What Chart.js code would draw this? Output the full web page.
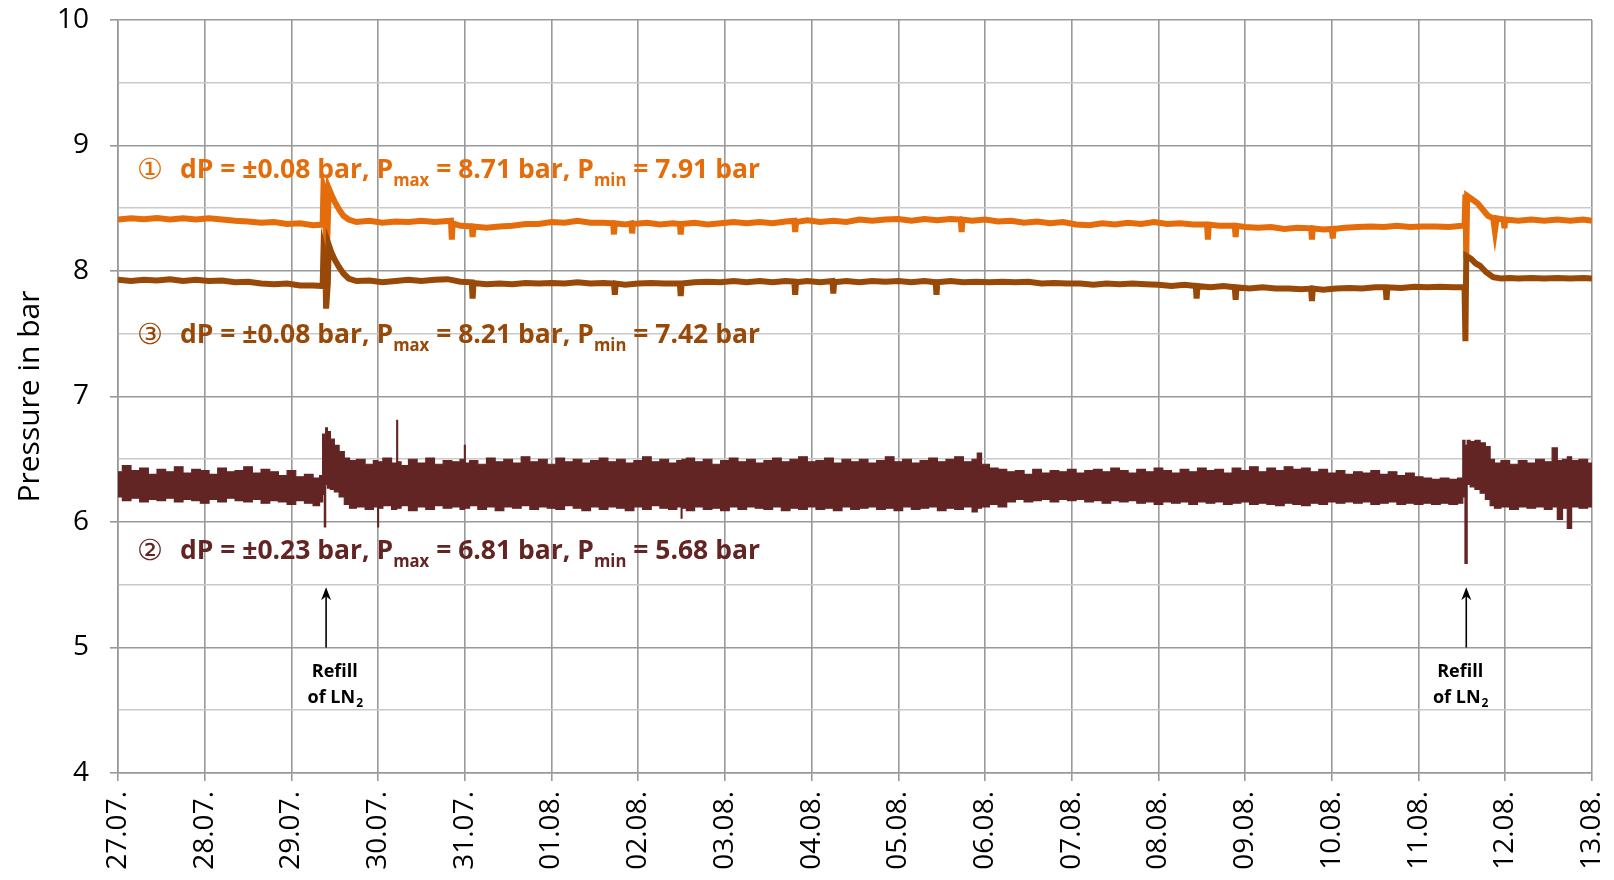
<!DOCTYPE html>
<html>
<head>
<meta charset="utf-8">
<script src="https://cdn.jsdelivr.net/npm/chart.js@4.4.1/dist/chart.umd.min.js"></script>
<style>
  html, body { margin: 0; padding: 0; background: #fff; }
  #wrap { width: 1614px; height: 880px; }
</style>
</head>
<body>
<div id="wrap"><canvas id="pressureChart"></canvas></div>
<script>
// x axis: days since 27.07.
const dateLabels = ['27.07.','28.07.','29.07.','30.07.','31.07.','01.08.','02.08.','03.08.','04.08.',
  '05.08.','06.08.','07.08.','08.08.','09.08.','10.08.','11.08.','12.08.','13.08.'];

// sensor 1 (orange)
const s1Days = [0.00,0.15,0.30,0.45,0.60,0.75,0.90,1.05,1.20,1.35,1.50,1.65,1.80,1.95,2.10,2.25,2.36,2.37,2.39,2.40,2.42,2.43,2.46,2.50,2.55,2.60,2.66,
  2.75,2.90,3.05,3.20,3.35,3.50,3.65,3.84,3.85,3.86,3.95,4.08,4.09,4.10,4.25,4.40,4.55,4.70,4.85,5.00,5.15,5.30,5.45,5.60,5.71,5.72,5.73,5.85,5.92,5.93,5.94,
  6.10,6.25,6.40,6.48,6.49,6.50,6.65,6.80,6.95,7.10,7.25,7.40,7.55,7.70,7.80,7.81,7.82,7.95,8.10,8.25,8.40,8.55,8.70,8.85,9.00,9.15,9.30,9.45,9.60,9.72,9.73,9.74,9.85,
  10.00,10.15,10.30,10.45,10.60,10.75,10.90,11.05,11.20,11.35,11.50,11.65,11.80,11.95,12.10,12.25,12.40,12.56,12.57,12.58,12.70,12.88,12.89,12.90,13.00,13.15,13.30,13.45,13.60,
  13.76,13.77,13.78,13.90,14.00,14.01,14.02,14.15,14.30,14.45,14.60,14.75,14.90,15.05,15.20,15.35,15.50,15.53,15.54,15.55,15.56,15.62,15.68,15.74,15.80,15.86,15.88,15.90,
  15.98,15.99,16.00,16.15,16.30,16.45,16.60,16.75,16.90,17.00];
const s1Bar = [8.41,8.42,8.412,8.422,8.41,8.42,8.41,8.42,8.41,8.40,8.395,8.385,8.39,8.375,8.38,8.365,8.37,8.67,8.62,7.95,8.40,8.66,8.61,8.55,8.49,8.44,8.41,
  8.39,8.40,8.385,8.395,8.39,8.40,8.39,8.40,8.25,8.38,8.36,8.355,8.27,8.355,8.345,8.355,8.36,8.375,8.375,8.39,8.385,8.40,8.385,8.385,8.38,8.29,8.38,8.37,8.38,8.30,8.375,
  8.385,8.37,8.38,8.375,8.29,8.375,8.385,8.37,8.38,8.39,8.38,8.39,8.38,8.395,8.40,8.31,8.39,8.405,8.39,8.40,8.39,8.41,8.40,8.41,8.415,8.40,8.415,8.405,8.415,8.41,8.31,8.41,8.40,
  8.41,8.395,8.40,8.385,8.395,8.38,8.39,8.37,8.365,8.38,8.37,8.385,8.375,8.39,8.375,8.38,8.37,8.37,8.25,8.37,8.36,8.36,8.27,8.36,8.35,8.345,8.35,8.335,8.345,
  8.34,8.25,8.34,8.33,8.335,8.26,8.335,8.345,8.35,8.355,8.35,8.36,8.35,8.355,8.355,8.35,8.36,8.36,8.61,8.10,8.60,8.57,8.54,8.49,8.44,8.42,8.32,8.42,
  8.41,8.34,8.41,8.40,8.41,8.40,8.41,8.40,8.41,8.40];

// sensor 3 (brown)
const s3Days = [0.00,0.15,0.30,0.45,0.60,0.75,0.90,1.05,1.20,1.35,1.50,1.65,1.80,1.95,2.10,2.25,2.36,2.37,2.39,2.40,2.42,2.43,2.46,2.50,2.55,2.60,2.66,
  2.75,2.90,3.05,3.20,3.35,3.50,3.65,3.80,3.95,4.08,4.09,4.10,4.25,4.40,4.55,4.70,4.85,5.00,5.15,5.30,5.45,5.60,5.72,5.73,5.74,5.85,6.00,6.15,6.30,6.48,6.49,6.50,
  6.65,6.80,6.95,7.10,7.25,7.40,7.55,7.70,7.80,7.81,7.82,7.95,8.10,8.24,8.25,8.26,8.40,8.55,8.70,8.85,9.00,9.15,9.30,9.43,9.44,9.45,9.60,9.75,9.90,
  10.05,10.20,10.35,10.50,10.65,10.80,10.95,11.10,11.25,11.40,11.55,11.70,11.85,12.00,12.15,12.30,12.43,12.44,12.45,12.60,12.75,12.88,12.89,12.90,13.05,13.20,13.35,
  13.50,13.65,13.76,13.77,13.78,13.90,14.05,14.20,14.35,14.50,14.62,14.63,14.64,14.80,14.95,15.10,15.25,15.40,15.53,15.54,15.55,15.60,15.66,15.71,15.78,15.86,
  15.95,16.05,16.15,16.30,16.45,16.60,16.75,16.90,17.00];
const s3Bar = [7.93,7.92,7.93,7.925,7.935,7.92,7.93,7.92,7.925,7.91,7.915,7.90,7.895,7.90,7.885,7.885,7.88,8.16,8.10,7.70,7.90,8.21,8.15,8.09,8.03,7.98,7.94,
  7.92,7.925,7.91,7.92,7.93,7.92,7.93,7.935,7.915,7.91,7.78,7.905,7.895,7.90,7.895,7.905,7.90,7.905,7.90,7.91,7.90,7.905,7.90,7.81,7.90,7.89,7.90,7.905,7.90,7.90,7.80,7.90,
  7.91,7.915,7.91,7.92,7.91,7.92,7.91,7.92,7.915,7.81,7.91,7.92,7.91,7.92,7.82,7.91,7.92,7.91,7.92,7.915,7.92,7.91,7.92,7.91,7.81,7.91,7.92,7.91,7.915,
  7.91,7.915,7.91,7.915,7.90,7.905,7.90,7.90,7.89,7.90,7.895,7.90,7.895,7.89,7.88,7.89,7.88,7.78,7.88,7.87,7.88,7.87,7.77,7.87,7.86,7.87,7.86,
  7.86,7.855,7.86,7.76,7.86,7.85,7.86,7.865,7.86,7.87,7.87,7.77,7.87,7.865,7.875,7.87,7.875,7.87,7.87,7.44,8.12,8.10,8.06,8.04,7.99,7.95,
  7.94,7.945,7.94,7.945,7.94,7.945,7.94,7.945,7.94];

// sensor 2 (dark red): upper and lower edge of the noise band
const s2Days = [0.0,0.1,0.2,0.3,0.4,0.5,0.6,0.7,0.8,0.9,1.0,1.1,1.2,1.3,1.4,1.5,1.6,1.7,1.8,1.9,2.0,2.1,2.2,2.3,2.35,
  2.37,2.39,2.40,2.43,2.47,2.52,2.58,2.64,2.70,
  2.8,2.9,2.99,3.0,3.01,3.1,3.21,3.22,3.23,3.3,3.4,3.5,3.6,3.7,3.8,3.9,3.99,4.0,4.01,4.1,4.2,4.3,4.4,4.5,4.6,4.7,4.8,4.9,
  5.0,5.1,5.2,5.3,5.4,5.5,5.6,5.7,5.8,5.9,6.0,6.1,6.2,6.3,6.4,6.49,6.5,6.51,6.6,6.7,6.8,6.9,7.0,7.1,7.2,7.3,7.4,7.5,7.6,7.7,7.8,7.9,
  8.0,8.1,8.2,8.3,8.4,8.5,8.6,8.7,8.8,8.9,9.0,9.1,9.2,9.3,9.4,9.5,9.6,9.7,9.8,9.9,9.92,10.0,10.1,
  10.2,10.3,10.4,10.5,10.6,10.7,10.8,10.9,11.0,11.1,11.2,11.3,11.4,11.5,11.6,11.7,11.8,11.9,12.0,12.1,12.2,12.3,12.4,12.5,12.6,12.7,12.8,12.9,
  13.0,13.1,13.2,13.3,13.4,13.5,13.6,13.7,13.8,13.9,14.0,14.1,14.2,14.3,14.4,14.5,14.6,14.7,14.8,14.9,15.0,15.1,15.2,15.3,15.4,15.5,
  15.52,15.55,15.57,15.62,15.68,15.74,15.80,15.85,
  15.9,16.0,16.1,16.2,16.3,16.4,16.5,16.58,16.62,16.7,16.73,16.8,16.9,17.0];
const s2High = [6.40,6.45,6.41,6.43,6.38,6.42,6.40,6.44,6.39,6.42,6.41,6.38,6.43,6.40,6.41,6.44,6.39,6.42,6.40,6.37,6.41,6.36,6.38,6.35,6.37,
  6.70,6.66,6.75,6.72,6.66,6.61,6.56,6.51,6.49,
  6.50,6.46,6.49,6.47,6.48,6.51,6.47,6.81,6.48,6.45,6.50,6.47,6.51,6.46,6.49,6.48,6.50,6.61,6.47,6.49,6.46,6.51,6.48,6.50,6.47,6.52,6.48,6.50,
  6.46,6.51,6.48,6.50,6.47,6.49,6.51,6.48,6.50,6.47,6.49,6.52,6.48,6.50,6.47,6.49,6.48,6.50,6.51,6.48,6.50,6.46,6.49,6.51,6.48,6.50,6.47,6.49,6.51,6.48,6.50,6.52,
  6.48,6.49,6.51,6.47,6.50,6.48,6.50,6.47,6.49,6.52,6.48,6.50,6.47,6.49,6.51,6.48,6.50,6.52,6.48,6.50,6.55,6.46,6.43,
  6.42,6.40,6.41,6.38,6.42,6.39,6.41,6.40,6.42,6.39,6.41,6.42,6.40,6.43,6.41,6.39,6.42,6.40,6.43,6.41,6.39,6.42,6.40,6.43,6.41,6.42,6.39,6.43,
  6.41,6.44,6.40,6.43,6.41,6.44,6.42,6.43,6.40,6.42,6.39,6.41,6.38,6.40,6.39,6.41,6.38,6.40,6.37,6.39,6.36,6.35,6.34,6.35,6.34,6.35,
  6.65,6.61,6.65,6.64,6.65,6.63,6.60,6.50,
  6.47,6.49,6.46,6.49,6.47,6.50,6.48,6.59,6.49,6.50,6.52,6.49,6.50,6.47];
const s2Low = [6.20,6.17,6.19,6.16,6.18,6.17,6.19,6.16,6.18,6.17,6.15,6.18,6.16,6.19,6.17,6.16,6.18,6.15,6.17,6.16,6.14,6.17,6.15,6.13,6.16,
  6.22,5.96,6.30,6.27,6.26,6.24,6.20,6.14,6.11,
  6.12,6.10,6.12,5.96,6.11,6.13,6.10,6.12,6.11,6.13,6.09,6.12,6.10,6.13,6.11,6.12,6.10,6.12,6.11,6.13,6.10,6.12,6.09,6.12,6.11,6.13,6.10,6.12,
  6.11,6.10,6.13,6.11,6.09,6.12,6.10,6.12,6.11,6.09,6.12,6.10,6.13,6.11,6.10,6.12,6.03,6.11,6.09,6.12,6.10,6.11,6.09,6.12,6.10,6.12,6.11,6.10,6.12,6.09,6.11,6.10,
  6.12,6.10,6.11,6.09,6.12,6.10,6.11,6.12,6.10,6.11,6.09,6.12,6.10,6.11,6.12,6.09,6.11,6.10,6.12,6.08,6.11,6.12,6.14,
  6.12,6.16,6.18,6.16,6.17,6.18,6.16,6.18,6.17,6.18,6.16,6.17,6.15,6.17,6.16,6.17,6.15,6.16,6.14,6.16,6.15,6.16,6.14,6.16,6.15,6.16,6.14,6.15,
  6.16,6.14,6.15,6.14,6.13,6.15,6.14,6.13,6.15,6.14,6.16,6.15,6.16,6.15,6.16,6.14,6.15,6.16,6.14,6.15,6.14,6.15,6.14,6.15,6.14,6.15,
  6.20,5.67,6.30,6.28,6.26,6.23,6.18,6.13,
  6.11,6.12,6.10,6.12,6.11,6.12,6.10,6.12,6.02,6.11,5.95,6.12,6.11,6.12];

// annotation texts
const notes = [
  { mark: '\u2460', parts: ['dP = \u00b10.08 bar, P', 'max', ' = 8.71 bar, P', 'min', ' = 7.91 bar'], color: '#E46C0A', day: 0.23, bar: 8.741 },
  { mark: '\u2462', parts: ['dP = \u00b10.08 bar, P', 'max', ' = 8.21 bar, P', 'min', ' = 7.42 bar'], color: '#984807', day: 0.23, bar: 7.426 },
  { mark: '\u2461', parts: ['dP = \u00b10.23 bar, P', 'max', ' = 6.81 bar, P', 'min', ' = 5.68 bar'], color: '#632523', day: 0.23, bar: 5.705 }
];
const refillDays = [2.40, 15.55];
const refillLabelDays = [2.50, 15.48];

function pts(xs, ys) { return xs.map((d, i) => ({ x: d, y: ys[i] })); }

const isWhole = v => Math.abs(v - Math.round(v)) < 1e-6;

const notePlugin = {
  id: 'notes',
  afterDatasetsDraw(chart) {
    const { ctx, scales: { x, y } } = chart;
    ctx.save();
    ctx.textAlign = 'left';
    ctx.textBaseline = 'alphabetic';
    notes.forEach(n => {
      const px = x.getPixelForValue(n.day);
      const py = y.getPixelForValue(n.bar);
      ctx.fillStyle = n.color;
      ctx.font = '29px "DejaVu Sans", "Noto Sans CJK JP"';
      ctx.fillText(n.mark, px - 1, py + 1);
      const big = 'bold 27px "Open Sans"', small = 'bold 17px "Open Sans"';
      let w = 0;
      n.parts.forEach((p, i) => { ctx.font = i % 2 ? small : big; w += ctx.measureText(p).width; });
      ctx.save();
      ctx.translate(px + 42, py);
      ctx.scale(580 / w, 1);
      let cx = 0;
      n.parts.forEach((p, i) => {
        ctx.font = i % 2 ? small : big;
        ctx.fillText(p, cx, i % 2 ? 8 : 0);
        cx += ctx.measureText(p).width;
      });
      ctx.restore();
    });

    // refill arrows + labels
    ctx.strokeStyle = '#000';
    ctx.fillStyle = '#000';
    ctx.lineWidth = 1.6;
    refillDays.forEach((d, k) => {
      const ax = x.getPixelForValue(d);
      const y0 = y.getPixelForValue(5.0), y1 = y.getPixelForValue(5.48);
      ctx.beginPath();
      ctx.moveTo(ax, y0);
      ctx.lineTo(ax, y1 + 6);
      ctx.stroke();
      ctx.beginPath();
      ctx.moveTo(ax, y1);
      ctx.lineTo(ax - 5, y1 + 13);
      ctx.lineTo(ax, y1 + 9);
      ctx.lineTo(ax + 5, y1 + 13);
      ctx.closePath();
      ctx.fill();

      const lx = x.getPixelForValue(refillLabelDays[k]);
      ctx.textAlign = 'center';
      ctx.font = 'bold 18px "Open Sans"';
      ctx.fillText('Refill', lx, y.getPixelForValue(4.765));
      const main = 'of LN';
      const mw = ctx.measureText(main).width;
      ctx.font = 'bold 12px "Open Sans"';
      const sw = ctx.measureText('2').width;
      const ly = y.getPixelForValue(4.558);
      ctx.textAlign = 'left';
      ctx.font = 'bold 18px "Open Sans"';
      ctx.fillText(main, lx - (mw + sw) / 2, ly);
      ctx.font = 'bold 12px "Open Sans"';
      ctx.fillText('2', lx - (mw + sw) / 2 + mw + 1, ly + 4);
    });
    ctx.restore();
  }
};

Chart.defaults.font.family = '"Open Sans", sans-serif';
Chart.defaults.color = '#000';

const chart = new Chart(document.getElementById('pressureChart'), {
  type: 'line',
  data: {
    datasets: [
      { label: 'Sensor 3', data: pts(s3Days, s3Bar), borderColor: '#984807', borderWidth: 6, pointRadius: 0, fill: false },
      { label: 'Sensor 1', data: pts(s1Days, s1Bar), borderColor: '#E46C0A', borderWidth: 6, pointRadius: 0, fill: false },
      { label: 'Sensor 2 high', data: pts(s2Days, s2High), borderColor: '#632523', backgroundColor: '#632523', borderWidth: 1.2, pointRadius: 0, stepped: 'middle', fill: '+1' },
      { label: 'Sensor 2 low', data: pts(s2Days, s2Low), borderColor: '#632523', borderWidth: 1.2, pointRadius: 0, stepped: 'middle', fill: false }
    ]
  },
  options: {
    responsive: true,
    maintainAspectRatio: false,
    animation: false,
    layout: { padding: { top: 20, right: 22, left: 0, bottom: 0 } },
    elements: { line: { tension: 0, borderJoinStyle: 'miter' } },
    plugins: { legend: { display: false }, tooltip: { enabled: false } },
    scales: {
      x: {
        type: 'linear', min: 0, max: 17,
        ticks: {
          stepSize: 1, autoSkip: false, minRotation: 90, maxRotation: 90,
          padding: 10, font: { size: 28 }, color: '#000',
          callback: (v, i) => dateLabels[i]
        },
        grid: { color: '#999', lineWidth: 1.6, tickLength: 8, tickColor: '#999' },
        border: { color: '#999', width: 1.6 },
        afterFit: s => { s.height = 107; s.paddingLeft = 0; s.paddingRight = 0; }
      },
      y: {
        min: 4, max: 10,
        ticks: {
          stepSize: 0.5, autoSkip: false, padding: 21, font: { size: 28 }, color: '#000',
          callback: v => isWhole(v) ? String(Math.round(v)) : ''
        },
        grid: {
          color: c => isWhole(c.tick.value) ? '#999' : '#cacaca',
          tickColor: c => isWhole(c.tick.value) ? '#999' : 'rgba(0,0,0,0)',
          lineWidth: 1.6, tickLength: 8
        },
        border: { color: '#999', width: 1.6 },
        title: { display: true, text: 'Pressure in bar', font: { size: 30 }, color: '#000', padding: { top: 12, bottom: 0 } },
        afterFit: s => { s.width = 118; s.paddingTop = 0; s.paddingBottom = 0; }
      }
    }
  },
  plugins: [notePlugin]
});
</script>
</body>
</html>
